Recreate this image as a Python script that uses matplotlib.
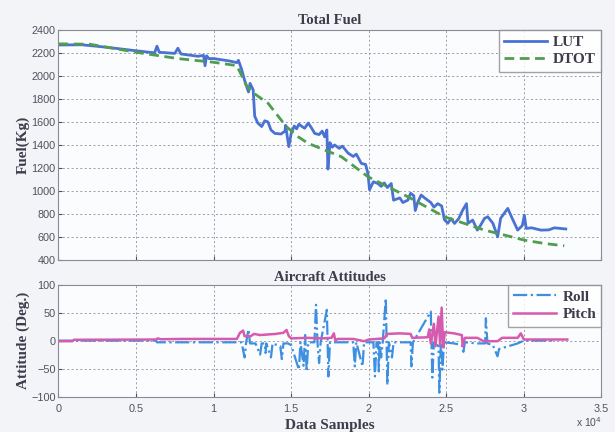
import matplotlib
matplotlib.use('Agg')
import matplotlib.pyplot as plt
import numpy as np

# Total fuel - LUT estimate (samples, kg)
lut_x = [0, 1500, 3000, 5000, 6200, 6350, 6500, 7500, 7700, 7900, 9000, 9350, 9450, 9550,
         9700, 10000, 11000, 11500, 11600, 11800, 12000, 12100, 12250, 12350, 12550, 12650,
         12850, 13100, 13300, 13500, 13700, 13950, 14350, 14600, 14650, 14750, 14850, 15000,
         15200, 15350, 15500, 15700, 15870, 16100, 16300, 16520, 16800, 17000, 17160, 17300,
         17370, 17500, 17650, 17800, 18100, 18300, 18660, 19000, 19200, 19520, 19800, 19950,
         20050, 20300, 20590, 20800, 21000, 21200, 21450, 21600, 22000, 22200, 22520, 22700,
         22900, 23000, 23150, 23380, 23600, 24000, 24200, 24450, 24700, 24880, 25100, 25300,
         25530, 25800, 26060, 26300, 26400, 26700, 27000, 27200, 27460, 27670, 28000, 28310,
         28500, 28960, 29200, 29600, 29900, 30030, 30150, 30500, 31100, 31600, 31960, 32700]
lut_y = [2268, 2270, 2250, 2218, 2200, 2258, 2205, 2195, 2240, 2190, 2170, 2178, 2088, 2175,
         2150, 2150, 2130, 2115, 2135, 2060, 1960, 1920, 1860, 1935, 1880, 1650,
         1590, 1560, 1610, 1600, 1530, 1500, 1495, 1520, 1570, 1470, 1385, 1500,
         1565, 1540, 1580, 1560, 1545, 1590, 1550, 1500, 1490, 1520, 1470, 1530,
         1190, 1420, 1380, 1400, 1370, 1390, 1330, 1300, 1320, 1240, 1230, 1150,
         1010, 1080, 1065, 1040, 1070, 1030, 1065, 920, 940, 900, 920, 980,
         960, 830, 900, 965, 940, 900, 860, 890, 870, 750, 720, 760,
         718, 760, 835, 890, 720, 747, 660, 700, 762, 776, 720, 602,
         762, 849, 776, 660, 700, 790, 675, 680, 660, 662, 680, 670]

# Total fuel - DTOT estimate
dtot_x = [0, 2000, 5000, 7700, 10000, 11500, 12100, 12440, 13510, 14690, 15440, 16090, 17160,
          18230, 19950, 21020, 22520, 24880, 27460, 28750, 30030, 31320, 32600]
dtot_y = [2278, 2275, 2205, 2150, 2118, 2089, 1920, 1863, 1762, 1559, 1472, 1414, 1356,
          1298, 1124, 1051, 950, 776, 660, 617, 573, 544, 524]

# Attitudes (deg)
roll_x = [0, 6300, 6350, 9000, 11800, 12000, 12100, 12250, 12350, 12700, 13000, 13100, 13300,
          13350, 13400, 13700, 13800, 14300, 14400, 14500, 14800, 15000, 15500, 15600, 15800,
          15900, 16000, 16100, 16500, 16600, 16700, 16800, 16900, 17300, 17400, 17500, 18000,
          19000, 19100, 19200, 19600, 19700, 20300, 20400, 20500, 20600, 20650, 20700, 20800,
          20900, 21100, 21200, 21300, 21500, 21600, 22700, 22750, 22850, 24000, 24100, 24200,
          24500, 24550, 24650, 24750, 24850, 25500, 26000, 26100, 26200, 27000, 27500, 27550,
          27650, 28000, 28300, 28400, 29000, 29600, 30000, 32000]
roll_y = [0, 0, -3, -3, -3, -30, -3, 20, -5, -5, -25, -5, -5,
          -22, -5, -30, -5, -10, -33, -5, -5, -8, -52, -3, -45,
          10, -55, -3, -3, 64, -5, -40, -3, 55, -64, -3, -3,
          -3, -46, -3, -46, -3, -3, -64, -3, -3, -55, -3, -30,
          -3, 76, -79, -3, -30, -3, -3, -46, -3, 52, -66, -3,
          -10, -93, -3, -52, -3, -5, -8, -20, -3, -5, -5, 40,
          -5, -8, -28, -15, -10, -5, 0, 0]
pitch_x = [0, 900, 1000, 6300, 6400, 6600, 8000, 11500, 11700, 11900, 12000, 12400, 12600,
           13000, 13500, 14000, 14500, 14700, 14850, 15000, 16000, 17000, 17600, 17750, 17850,
           18000, 19000, 19700, 20000, 21000, 21200, 22000, 22700, 22800, 23800, 23900, 24000,
           24200, 24300, 24500, 24600, 24700, 24800, 24900, 25500, 26000, 26060, 26200, 27000,
           27400, 28300, 28600, 29600, 29800, 30000, 32800]
pitch_y = [-1, -1, 1.5, 2, 4, 2.5, 3, 3, 14, 18, 8, 8, 12,
           10, 11, 12, 14, 19, 8, 4, 5, 4, 5, 13, 0,
           3, 3, -1, 2, 4, 12, 13, 12, 5, 6, 20, -5,
           30, -10, 43, -8, 59, -12, 15, 13, 10, -10, 5, 5,
           -1, -1, 5, 5, 13, 2, 2]

xticks = [0, 5000, 10000, 15000, 20000, 25000, 30000, 35000]
xticklabels = ['0', '0.5', '1', '1.5', '2', '2.5', '3', '3.5']

txt = '#3c3c4a'
serif = {'family': 'Liberation Serif', 'weight': 'bold', 'color': txt}
plt.rcParams['font.family'] = 'Liberation Sans'

fig = plt.figure(figsize=(6.15, 4.32), dpi=100, facecolor='#f3f4f8')
ax1 = fig.add_axes([0.095, 0.398, 0.883, 0.533])
ax2 = fig.add_axes([0.095, 0.082, 0.883, 0.259])

for ax in (ax1, ax2):
    ax.set_facecolor('#fbfcfe')
    ax.set_xlim(0, 35000)
    ax.set_xticks(xticks)
    ax.grid(True, color='#9a9aaa', linestyle=(0, (2, 2.5)), linewidth=0.7)
    ax.tick_params(direction='in', labelsize=7.8, colors='#50505c', length=3)
    ax.tick_params(axis='y', pad=2)
    for s in ax.spines.values():
        s.set_color('#8a8a95')
        s.set_linewidth(0.8)

ax1.plot(lut_x, lut_y, color='#4a72d2', lw=2.0, label='LUT')
ax1.plot(dtot_x, dtot_y, color='#4f9e4f', lw=2.0, ls=(0, (3.5, 2)), label='DTOT')
ax1.set_ylim(400, 2400)
ax1.set_yticks(np.arange(400, 2401, 200))
ax1.set_xticklabels([])
ax1.set_title('Total Fuel', fontdict=serif, fontsize=10.5, pad=4)
ax1.set_ylabel('Fuel(Kg)', fontdict=serif, fontsize=11)
ax1.yaxis.set_label_coords(-0.052, 0.5)
leg1 = ax1.legend(loc='upper right', prop={'family': 'Liberation Serif', 'weight': 'bold', 'size': 11},
                  fancybox=False, borderaxespad=0, handlelength=2.8, labelspacing=0.25,
                  borderpad=0.35, handletextpad=0.4)
leg1.get_frame().set_edgecolor('#8a8a95')
for t in leg1.get_texts():
    t.set_color(txt)

ax2.plot(roll_x, roll_y, color='#3d8fe0', lw=1.6, ls='-.', label='Roll')
ax2.plot(pitch_x, pitch_y, color='#d65aae', lw=1.8, label='Pitch')
ax2.set_ylim(-100, 100)
ax2.set_yticks([-100, -50, 0, 50, 100])
ax2.set_xticklabels(xticklabels)
ax2.tick_params(axis='x', pad=5)
ax2.set_title('Aircraft Attitudes', fontdict=serif, fontsize=10.5, pad=3)
ax2.set_ylabel('Attitude (Deg.)', fontdict=serif, fontsize=11)
ax2.yaxis.set_label_coords(-0.052, 0.5)
ax2.set_xlabel('Data Samples', fontdict=serif, fontsize=11, labelpad=4)
leg2 = ax2.legend(loc='upper right', prop={'family': 'Liberation Serif', 'weight': 'bold', 'size': 11},
                  fancybox=False, borderaxespad=0, handlelength=2.8, labelspacing=0.25,
                  borderpad=0.35, handletextpad=0.4)
leg2.get_frame().set_edgecolor('#8a8a95')
for t in leg2.get_texts():
    t.set_color(txt)
ax2.text(1.0, -0.17, r'x 10$^4$', transform=ax2.transAxes, fontsize=7.5, color='#50505c',
         ha='right', va='top')

fig.savefig('out.png', dpi=100, facecolor=fig.get_facecolor())
